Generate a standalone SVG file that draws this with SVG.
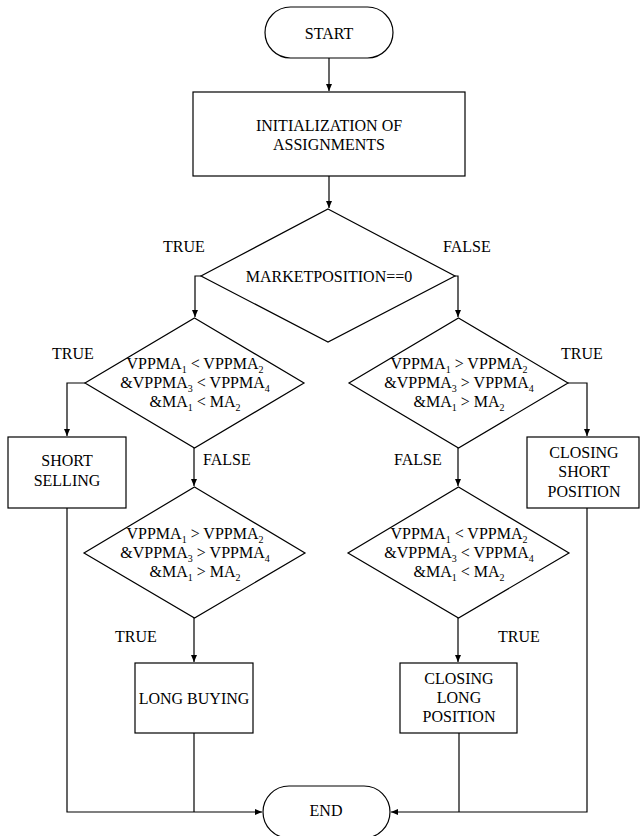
<svg xmlns="http://www.w3.org/2000/svg" width="642" height="836" viewBox="0 0 642 836" font-family="'Liberation Serif', 'Times New Roman', Times, 'DejaVu Serif', serif">
<style>
.s{fill:#fff;stroke:#000;stroke-width:1.2}
text{font-family:'Liberation Serif','Times New Roman',Times,'DejaVu Serif',serif;font-size:16px;fill:#000}
.m{text-anchor:middle}
.sub{font-size:10px}
.c{fill:none;stroke:#000;stroke-width:1.2}
</style>
<defs>
<marker id="a" markerUnits="userSpaceOnUse" markerWidth="8" markerHeight="8" refX="7" refY="3" orient="auto">
<path d="M0,0 L7,3 L0,6 z" fill="#000"/>
</marker>
</defs>
<rect width="642" height="836" fill="#fff"/>
<g id="connectors">
<path class="c" d="M329,58 V91" marker-end="url(#a)"/>
<path class="c" d="M329,176 V208" marker-end="url(#a)"/>
<path class="c" d="M201,276 H195 V317" marker-end="url(#a)"/>
<path class="c" d="M455,276 H458 V317" marker-end="url(#a)"/>
<path class="c" d="M85,383 H67 V436" marker-end="url(#a)"/>
<path class="c" d="M194,448 V486" marker-end="url(#a)"/>
<path class="c" d="M568,383 H587 V436" marker-end="url(#a)"/>
<path class="c" d="M458,448 V486" marker-end="url(#a)"/>
<path class="c" d="M194,618 V662" marker-end="url(#a)"/>
<path class="c" d="M458,618 V662" marker-end="url(#a)"/>
<path class="c" d="M67,508 V812 H262" marker-end="url(#a)"/>
<path class="c" d="M194,733 V812"/>
<path class="c" d="M587,508 V812 H391" marker-end="url(#a)"/>
<path class="c" d="M459,733 V812"/>
</g>
<g id="start">
<rect class="s" x="265" y="7" width="128" height="51" rx="25.5"/>
<text class="m" x="329" y="39">START</text>
</g>
<g id="init">
<rect class="s" x="193" y="92" width="272" height="84"/>
<text class="m" x="329" y="131">INITIALIZATION OF</text>
<text class="m" x="329" y="150">ASSIGNMENTS</text>
</g>
<g id="d1">
<polygon class="s" points="328,209 455,276 328,342 201,276"/>
<text class="m" x="329" y="282">MARKETPOSITION==0</text>
<text x="163" y="252">TRUE</text>
<text x="443" y="252">FALSE</text>
</g>
<g id="d2">
<polygon class="s" points="194.5,318 304,383 194.5,448 85,383"/>
<text class="m" x="195" y="369">VPPMA<tspan class="sub" dy="4">1</tspan><tspan dy="-4"> &lt; VPPMA</tspan><tspan class="sub" dy="4">2</tspan></text>
<text class="m" x="195" y="388">&amp;VPPMA<tspan class="sub" dy="4">3</tspan><tspan dy="-4"> &lt; VPPMA</tspan><tspan class="sub" dy="4">4</tspan></text>
<text class="m" x="195" y="407">&amp;MA<tspan class="sub" dy="4">1</tspan><tspan dy="-4"> &lt; MA</tspan><tspan class="sub" dy="4">2</tspan></text>
<text x="52" y="359">TRUE</text>
<text x="203" y="465">FALSE</text>
</g>
<g id="d4">
<polygon class="s" points="458.5,318 568,383 458.5,448 349,383"/>
<text class="m" x="459" y="369">VPPMA<tspan class="sub" dy="4">1</tspan><tspan dy="-4"> &gt; VPPMA</tspan><tspan class="sub" dy="4">2</tspan></text>
<text class="m" x="459" y="388">&amp;VPPMA<tspan class="sub" dy="4">3</tspan><tspan dy="-4"> &gt; VPPMA</tspan><tspan class="sub" dy="4">4</tspan></text>
<text class="m" x="459" y="407">&amp;MA<tspan class="sub" dy="4">1</tspan><tspan dy="-4"> &gt; MA</tspan><tspan class="sub" dy="4">2</tspan></text>
<text x="561" y="359">TRUE</text>
<text x="394" y="465">FALSE</text>
</g>
<g id="short-selling">
<rect class="s" x="8" y="437" width="118" height="71"/>
<text class="m" x="67" y="466">SHORT</text>
<text class="m" x="67" y="486">SELLING</text>
</g>
<g id="closing-short">
<rect class="s" x="527" y="437" width="112" height="71"/>
<text class="m" x="584" y="458">CLOSING</text>
<text class="m" x="584" y="477">SHORT</text>
<text class="m" x="584" y="497">POSITION</text>
</g>
<g id="d3">
<polygon class="s" points="194.5,487 305,553 194.5,618 84,553"/>
<text class="m" x="195" y="539">VPPMA<tspan class="sub" dy="4">1</tspan><tspan dy="-4"> &gt; VPPMA</tspan><tspan class="sub" dy="4">2</tspan></text>
<text class="m" x="195" y="558">&amp;VPPMA<tspan class="sub" dy="4">3</tspan><tspan dy="-4"> &gt; VPPMA</tspan><tspan class="sub" dy="4">4</tspan></text>
<text class="m" x="195" y="577">&amp;MA<tspan class="sub" dy="4">1</tspan><tspan dy="-4"> &gt; MA</tspan><tspan class="sub" dy="4">2</tspan></text>
<text x="115" y="642">TRUE</text>
</g>
<g id="d5">
<polygon class="s" points="458.5,487 569,553 458.5,618 348,553"/>
<text class="m" x="459" y="539">VPPMA<tspan class="sub" dy="4">1</tspan><tspan dy="-4"> &lt; VPPMA</tspan><tspan class="sub" dy="4">2</tspan></text>
<text class="m" x="459" y="558">&amp;VPPMA<tspan class="sub" dy="4">3</tspan><tspan dy="-4"> &lt; VPPMA</tspan><tspan class="sub" dy="4">4</tspan></text>
<text class="m" x="459" y="577">&amp;MA<tspan class="sub" dy="4">1</tspan><tspan dy="-4"> &lt; MA</tspan><tspan class="sub" dy="4">2</tspan></text>
<text x="498" y="642">TRUE</text>
</g>
<g id="long-buying">
<rect class="s" x="135" y="663" width="118" height="70"/>
<text class="m" x="194" y="704">LONG BUYING</text>
</g>
<g id="closing-long">
<rect class="s" x="400" y="663" width="117" height="70"/>
<text class="m" x="459" y="684">CLOSING</text>
<text class="m" x="459" y="703">LONG</text>
<text class="m" x="459" y="722">POSITION</text>
</g>
<g id="end">
<rect class="s" x="263" y="786" width="127" height="52" rx="26"/>
<text class="m" x="326" y="816">END</text>
</g>
</svg>
